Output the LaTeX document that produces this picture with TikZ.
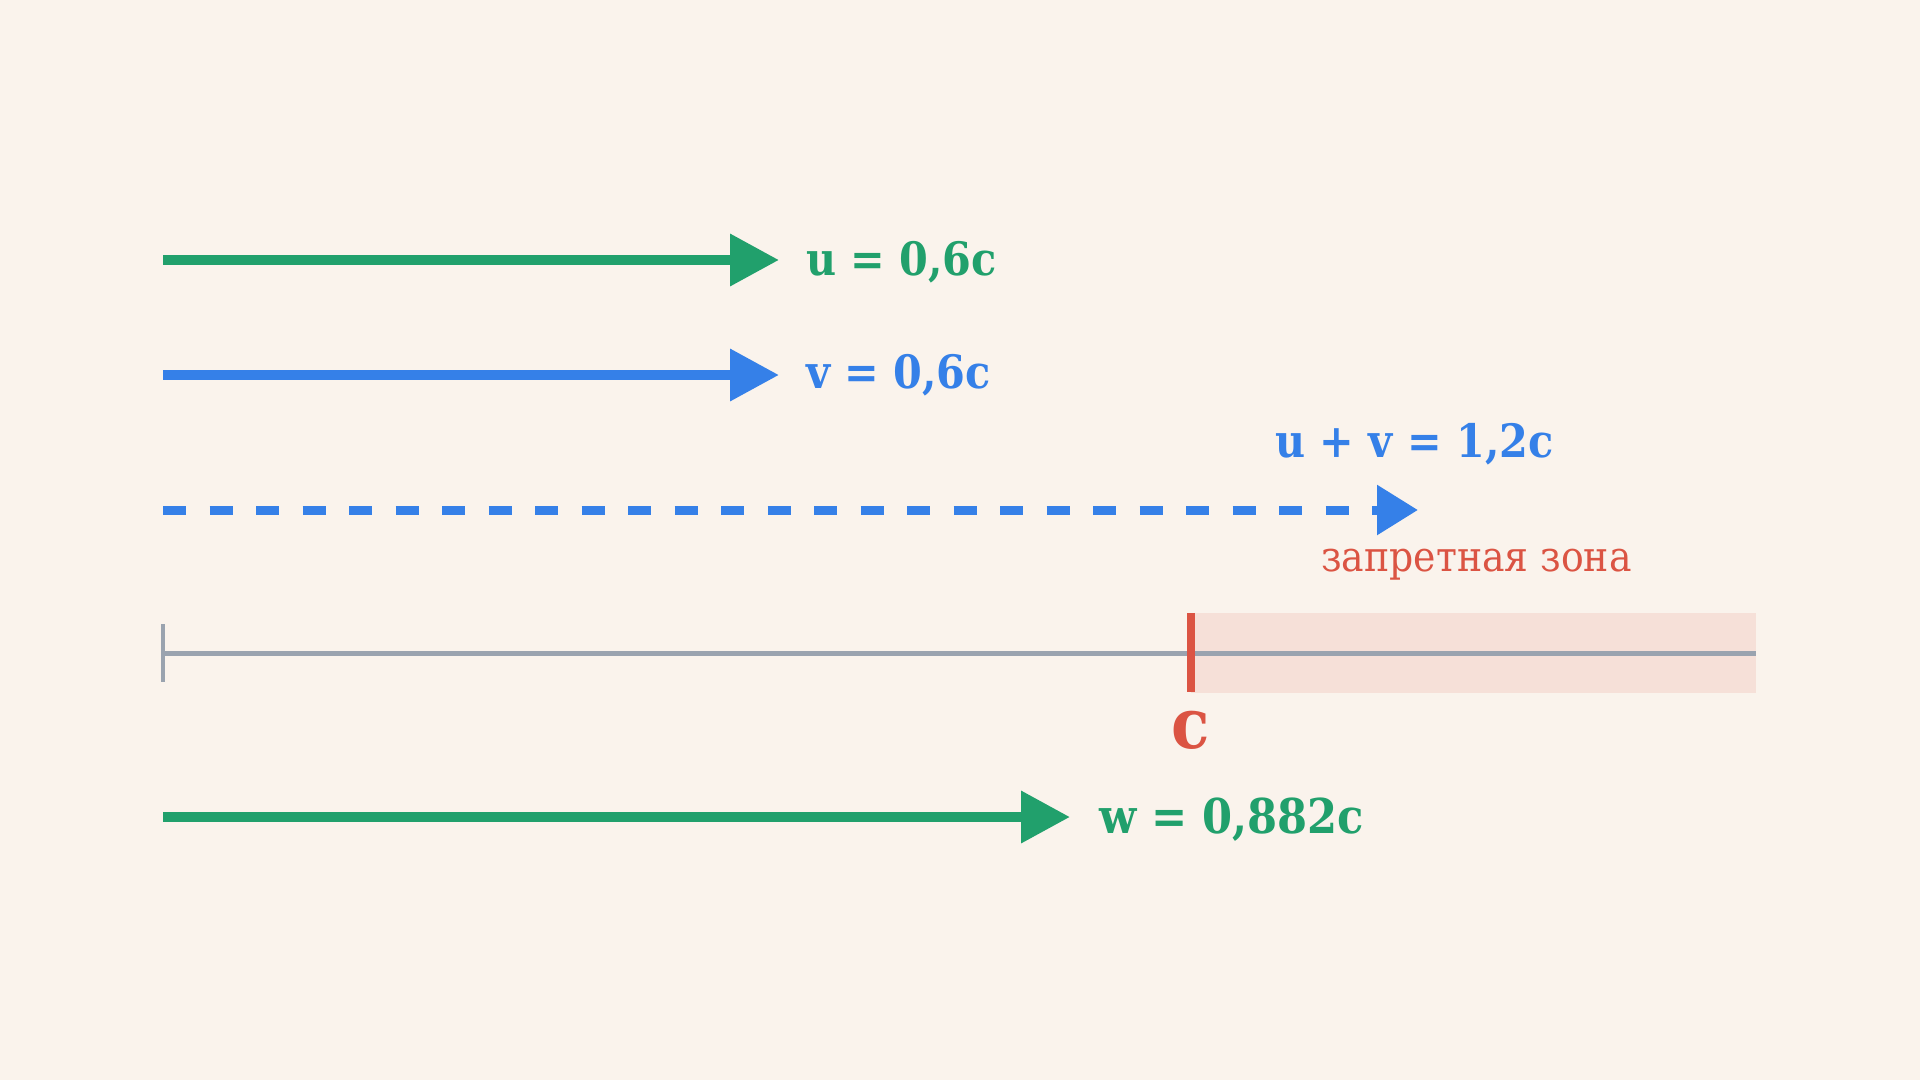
\documentclass[tikz,border=0pt]{standalone}
\usepackage{fontspec}
\setmainfont{DejaVu Serif Condensed}
\usetikzlibrary{arrows.meta}
\definecolor{bgc}{HTML}{FAF3EC}
\definecolor{grn}{HTML}{21A06C}
\definecolor{blu}{HTML}{3580E8}
\definecolor{redc}{HTML}{DB5443}
\definecolor{zonec}{HTML}{F6E0D8}
\definecolor{axisc}{HTML}{9AA3AF}
\tikzset{
  garrow/.style={draw=grn, line width=10pt, -{Triangle[length=49pt,width=50pt]}},
  barrow/.style={draw=blu, line width=10pt, -{Triangle[length=49pt,width=50pt]}},
  darrow/.style={draw=blu, line width=9pt, dash pattern=on 23pt off 23.5pt, -{Triangle[length=41pt,width=48pt]}},
  lbl/.style={anchor=base west, inner sep=0pt, font=\fontsize{46}{50}\selectfont\bfseries},
}
\begin{document}
\begin{tikzpicture}[x=1pt,y=-1pt]
\fill[bgc] (0,0) rectangle (1920,1080);
\useasboundingbox (0,0) rectangle (1920,1080);
% u arrow
\coordinate (uS) at (163,260);
\coordinate (uE) at (779,260);
\draw[garrow] (uS) -- (uE);
\node[lbl, text=grn] (uL) at (806,275) {u = 0,6c};
% v arrow
\coordinate (vS) at (163,375);
\coordinate (vE) at (779,375);
\draw[barrow] (vS) -- (vE);
\node[lbl, text=blu] (vL) at (806,388) {v = 0,6c};
% u+v dashed
\node[lbl, text=blu] (uvL) at (1275,457) {u + v = 1,2c};
\coordinate (dS) at (163,510);
\coordinate (dE) at (1418,510);
\draw[darrow] (dS) -- (dE);
\node[anchor=base west, inner sep=0pt, text=redc, font=\fontsize{42}{46}\selectfont] (zL) at (1321,571) {запретная зона};
% axis
\fill[zonec] (1191,613) rectangle (1756,693);
\coordinate (aS) at (163,653);
\coordinate (aE) at (1756,653);
\draw[axisc, line width=5pt] (aS) -- (aE);
\coordinate (t0a) at (163,624);
\coordinate (t0b) at (163,682);
\draw[axisc, line width=4pt] (t0a) -- (t0b);
\coordinate (cT) at (1191,613);
\coordinate (cB) at (1191,692);
\draw[redc, line width=8pt] (cT) -- (cB);
\node[anchor=base, inner sep=0pt, text=redc, font=\fontsize{70}{74}\selectfont\bfseries] (cL) at (1191,748) {c};
% w arrow
\coordinate (wS) at (163,817);
\coordinate (wE) at (1070,817);
\draw[garrow] (wS) -- (wE);
\node[lbl, text=grn, font=\fontsize{48}{52}\selectfont\bfseries] (wL) at (1099,833) {w = 0,882c};
\end{tikzpicture}
\end{document}
